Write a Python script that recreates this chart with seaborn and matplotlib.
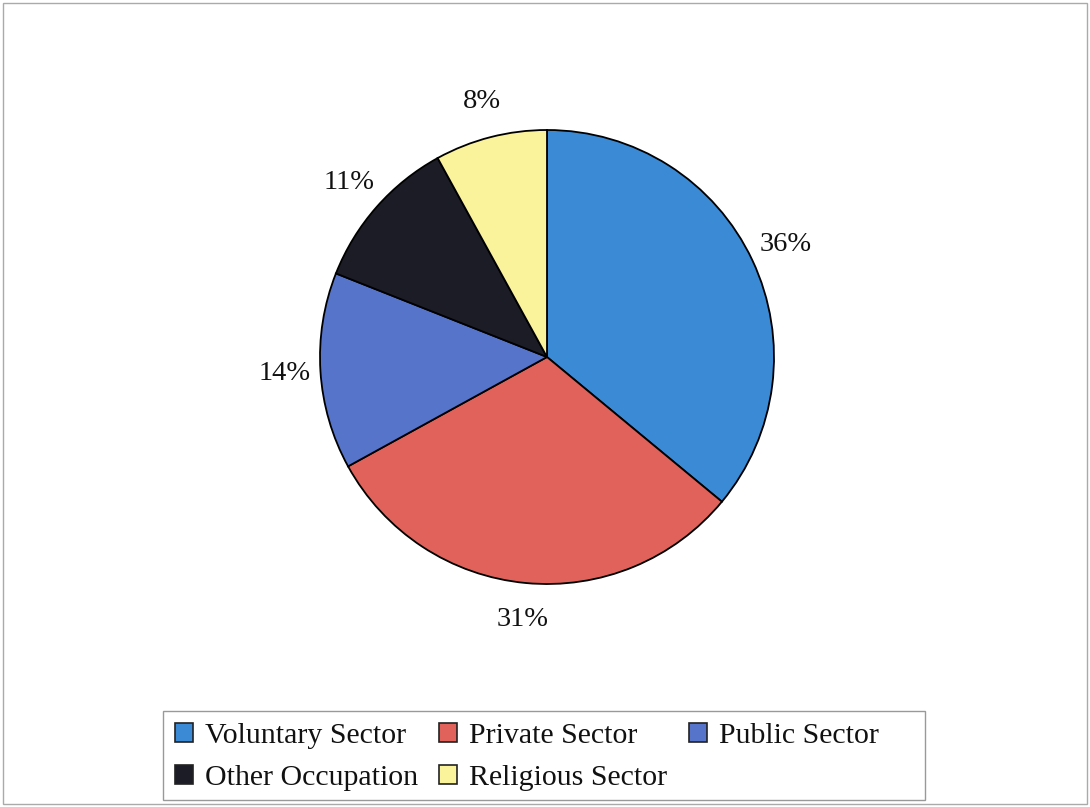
import matplotlib
matplotlib.use("Agg")
import matplotlib.pyplot as plt
import seaborn as sns
from matplotlib.patches import Patch, Rectangle

categories = ["Voluntary Sector", "Private Sector", "Public Sector", "Other Occupation", "Religious Sector"]
values = [36, 31, 14, 11, 8]
colors = ["#3A8AD6", "#E0625A", "#5674C9", "#1C1C26", "#FBF29C"]

sns.set_theme(style="white")
plt.rcParams["font.family"] = ["Liberation Serif", "DejaVu Serif"]

W, H = 1090, 807
fig = plt.figure(figsize=(W / 100, H / 100), dpi=100)
ax = fig.add_axes([0, 0, 1, 1])

wedges, texts, autotexts = ax.pie(
    values, colors=colors, startangle=90, counterclock=False,
    autopct=lambda p: f"{p:.0f}%", pctdistance=1.16,
    wedgeprops=dict(edgecolor="black", linewidth=1.3),
    textprops=dict(fontsize=20.5, color="#111111"),
    center=(0, 0), radius=1,
)
ax.set_aspect("equal")
# Pie centre at (547, 357 from top), radius ~227 px
R = 227
cx, cy = 547, H - 357
ax.set_xlim(-cx / R, (W - cx) / R)
ax.set_ylim(-cy / R, (H - cy) / R)
ax.axis("off")

order = [0, 3, 1, 4, 2]
handles = [Patch(facecolor=colors[i], edgecolor="#222222", linewidth=1.2) for i in order]
labels = [categories[i] for i in order]
leg = fig.legend(handles, labels, ncol=3, loc="upper left", bbox_to_anchor=(175 / W, 1 - 723 / H),
                 fontsize=21.5, frameon=False,
                 handlelength=0.6, handleheight=0.6, handletextpad=0.4,
                 columnspacing=0.72, borderpad=0.0, borderaxespad=0.0, labelspacing=0.53)
for t in leg.get_texts():
    t.set_color("#111111")

# legend frame
fig.patches.append(Rectangle((163 / W, 1 - 800 / H), (925 - 163) / W, (800 - 711) / H,
                             transform=fig.transFigure, fill=False, edgecolor="#999999", linewidth=1.0))
# outer chart border
fig.patches.append(Rectangle((3 / W, 3 / H), 1 - 6 / W, 1 - 6 / H, transform=fig.transFigure,
                             fill=False, edgecolor="#aaaaaa", linewidth=1.0))

fig.savefig("out.png", dpi=100, facecolor="white")
